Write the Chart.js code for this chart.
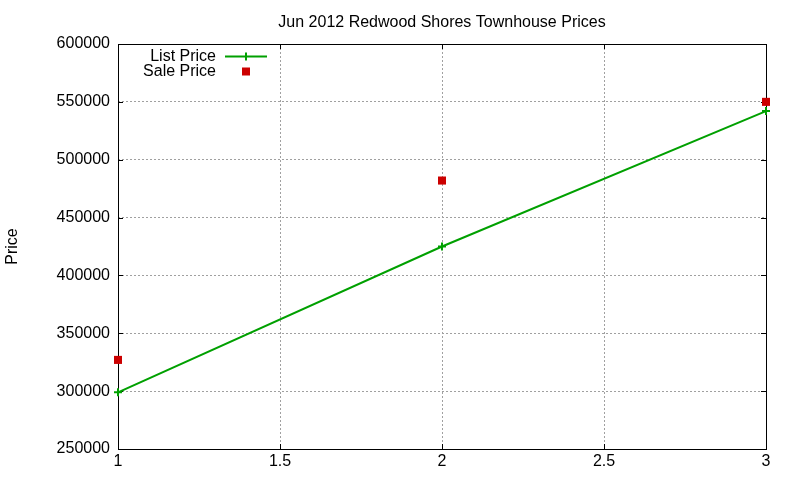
<!DOCTYPE html>
<html>
<head>
<meta charset="utf-8">
<script src="https://cdn.jsdelivr.net/npm/chart.js@4"></script>
<style>
  body { margin: 0; background: #fff; }
</style>
</head>
<body>
<canvas id="myChart" width="800" height="480"></canvas>
<script>
// Values
const monthPoints = [1, 2, 3];
const listPrice = [299000, 425000, 542000];
const salePrice = [327000, 482000, 550000];
const xTickValues = [1, 1.5, 2, 2.5, 3];
const yTickValues = [250000, 300000, 350000, 400000, 450000, 500000, 550000, 600000];

const fontName = "'Liberation Sans', Arial, sans-serif";
const green = "#00a000";
const red = "#cc0000";

//Black frame, grid-style inner ticks (drawn before the points, like gnuplot)
const framePlugin = {
  id: "frame",
  beforeDatasetsDraw(chart) {
    let ctx = chart.ctx, a = chart.chartArea;
    let xs = chart.scales.x, ys = chart.scales.y, t = 5;
    ctx.save();
    ctx.strokeStyle = "#000";
    ctx.lineWidth = 1;
    ctx.beginPath();
    for (let v of xTickValues) {
      let px = Math.round(xs.getPixelForValue(v)) + 0.5;
      ctx.moveTo(px, a.bottom); ctx.lineTo(px, a.bottom - t);
      ctx.moveTo(px, a.top); ctx.lineTo(px, a.top + t);
    }
    for (let v of yTickValues) {
      let py = Math.round(ys.getPixelForValue(v)) + 0.5;
      ctx.moveTo(a.left, py); ctx.lineTo(a.left + t, py);
      ctx.moveTo(a.right, py); ctx.lineTo(a.right - t, py);
    }
    ctx.stroke();
    ctx.strokeRect(Math.round(a.left) + 0.5, Math.round(a.top) + 0.5,
      Math.round(a.right - a.left), Math.round(a.bottom - a.top));
    ctx.restore();
  }
};

//Legend inside the plot, top left
const keyPlugin = {
  id: "key",
  afterDraw(chart) {
    let ctx = chart.ctx;
    let textRight = 216, sampleL = 225, sampleR = 267, mid = 246;
    let rows = [56.5, 71.5];
    ctx.save();
    ctx.font = "16px " + fontName;
    ctx.textAlign = "right";
    ctx.textBaseline = "middle";
    chart.data.datasets.forEach((ds, i) => {
      let y = rows[i];
      ctx.fillStyle = "#000";
      ctx.fillText(ds.label, textRight, y);
      if (ds.showLine) {
        ctx.strokeStyle = ds.borderColor;
        ctx.lineWidth = 2;
        ctx.beginPath();
        ctx.moveTo(sampleL, y); ctx.lineTo(sampleR, y);
        ctx.moveTo(mid, y - 4); ctx.lineTo(mid, y + 4);
        ctx.stroke();
      } else {
        ctx.fillStyle = ds.pointBackgroundColor;
        ctx.fillRect(mid - 4, y - 4, 8, 8);
      }
    });
    ctx.restore();
  }
};

let ctx = document.getElementById("myChart").getContext("2d");
let myChart = new Chart(ctx, {
  type: "scatter",
  data: {
    datasets: [
      {
        label: "List Price",
        data: monthPoints.map((m, i) => ({ x: m, y: listPrice[i] })),
        showLine: true,
        borderColor: green,
        borderWidth: 2,
        pointStyle: "cross",
        pointRadius: 4,
        pointBorderWidth: 2,
        pointBorderColor: green,
        pointBackgroundColor: green,
        clip: false,
      },
      {
        label: "Sale Price",
        data: monthPoints.map((m, i) => ({ x: m, y: salePrice[i] })),
        showLine: false,
        pointStyle: "rect",
        pointRadius: 5.7,
        pointBorderWidth: 0,
        pointBorderColor: red,
        pointBackgroundColor: red,
        clip: false,
      },
    ],
  },
  options: {
    responsive: false,
    animation: false,
    layout: { padding: { left: 0, right: 34, top: 0, bottom: 0 } },
    plugins: {
      legend: { display: false },
      tooltip: { enabled: false },
      title: {
        display: true,
        fullSize: false,
        text: "Jun 2012 Redwood Shores Townhouse Prices",
        color: "#000",
        font: { family: fontName, size: 16, weight: "normal", lineHeight: 1.2 },
        padding: { top: 13, bottom: 11.8 },
      },
    },
    scales: {
      x: {
        type: "linear",
        min: 1,
        max: 3,
        afterBuildTicks(scale) { scale.ticks = xTickValues.map(v => ({ value: v })); },
        afterFit(scale) { scale.height = 31; },
        ticks: {
          color: "#000",
          padding: 3,
          maxRotation: 0,
          font: { family: fontName, size: 16 },
          callback: v => String(v),
        },
        grid: { color: "#a0a0a0", drawTicks: false },
        border: { display: false, dash: [2, 2] },
      },
      y: {
        min: 250000,
        max: 600000,
        afterBuildTicks(scale) { scale.ticks = yTickValues.map(v => ({ value: v })); },
        afterFit(scale) { scale.width = 118; },
        title: {
          display: true,
          text: "Price",
          color: "#000",
          font: { family: fontName, size: 16 },
          padding: { top: 3, bottom: 0 },
        },
        ticks: {
          color: "#000",
          padding: 8,
          font: { family: fontName, size: 16 },
          callback: v => String(v),
        },
        grid: { color: "#a0a0a0", drawTicks: false },
        border: { display: false, dash: [2, 2] },
      },
    },
  },
  plugins: [framePlugin, keyPlugin],
});
</script>
</body>
</html>
